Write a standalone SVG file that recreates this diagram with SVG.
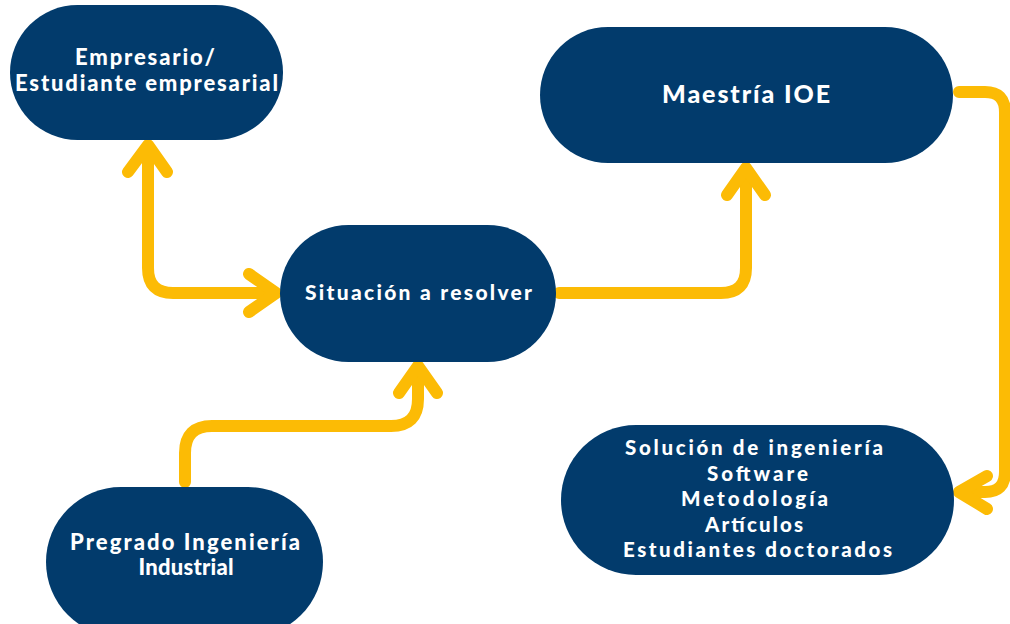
<svg xmlns="http://www.w3.org/2000/svg" width="1010" height="624" viewBox="0 0 1010 624">
<style>
.node{fill:#023b6c}
.t{fill:#ffffff;font-family:Lato,"Open Sans",sans-serif;font-weight:900;font-size:22px;text-anchor:middle}
.s{font-size:20.5px}
.c{fill:none;stroke:#fcbb05;stroke-width:12;stroke-linecap:round;stroke-linejoin:round}
</style>
<rect width="1010" height="624" fill="#ffffff"/>
<g id="connectors">
<path class="c" d="M148,146 V268 Q148,293 173,293 H274"/>
<path class="c" d="M128,172 L148,145 L167,172"/>
<path class="c" d="M249,274 L276,293 L249,312"/>
<path class="c" d="M559,293 H721 Q746,293 746,268 V169"/>
<path class="c" d="M727,195 L746,168 L765,195"/>
<path class="c" d="M185,482 V453 Q185,426 212,426 H391 Q418,426 418,399 V368"/>
<path class="c" d="M399,393 L418,366 L437,393"/>
<path class="c" d="M959,92 H985 Q1005,92 1005,112 V472 Q1005,492 985,492 H960"/>
<path class="c" d="M987,476 L959,492 L987,509"/>
</g>
<g id="empresario">
<rect class="node" x="10" y="5" width="273" height="135" rx="67.5"/>
<text class="t" x="145" y="65" textLength="140" lengthAdjust="spacing">Empresario/</text>
<text class="t" x="146.5" y="91" textLength="263" lengthAdjust="spacing">Estudiante empresarial</text>
</g>
<g id="maestria">
<rect class="node" x="540" y="27" width="413" height="136" rx="68"/>
<text class="t" x="746" y="103" style="font-size:25px" textLength="168" lengthAdjust="spacing">Maestría IOE</text>
</g>
<g id="situacion">
<rect class="node" x="280" y="225" width="276" height="137" rx="68.5"/>
<text class="t" x="418.5" y="300" style="font-size:21px" textLength="227" lengthAdjust="spacing">Situación a resolver</text>
</g>
<g id="pregrado">
<rect class="node" x="46" y="487" width="277" height="150" rx="75"/>
<text class="t" x="185" y="550" textLength="230" lengthAdjust="spacing">Pregrado Ingeniería</text>
<text class="t" x="186" y="575" textLength="95" lengthAdjust="spacing">Industrial</text>
</g>
<g id="solucion">
<rect class="node" x="561" y="425" width="393" height="150" rx="75"/>
<text class="t s" x="754" y="455" textLength="258" lengthAdjust="spacing">Solución de ingeniería</text>
<text class="t s" x="757.5" y="480.5" textLength="101" lengthAdjust="spacing">Software</text>
<text class="t s" x="754.5" y="506" textLength="147" lengthAdjust="spacing">Metodología</text>
<text class="t s" x="754" y="531.5" textLength="98" lengthAdjust="spacing">Artículos</text>
<text class="t s" x="757.5" y="557" textLength="269" lengthAdjust="spacing">Estudiantes doctorados</text>
</g>
</svg>
